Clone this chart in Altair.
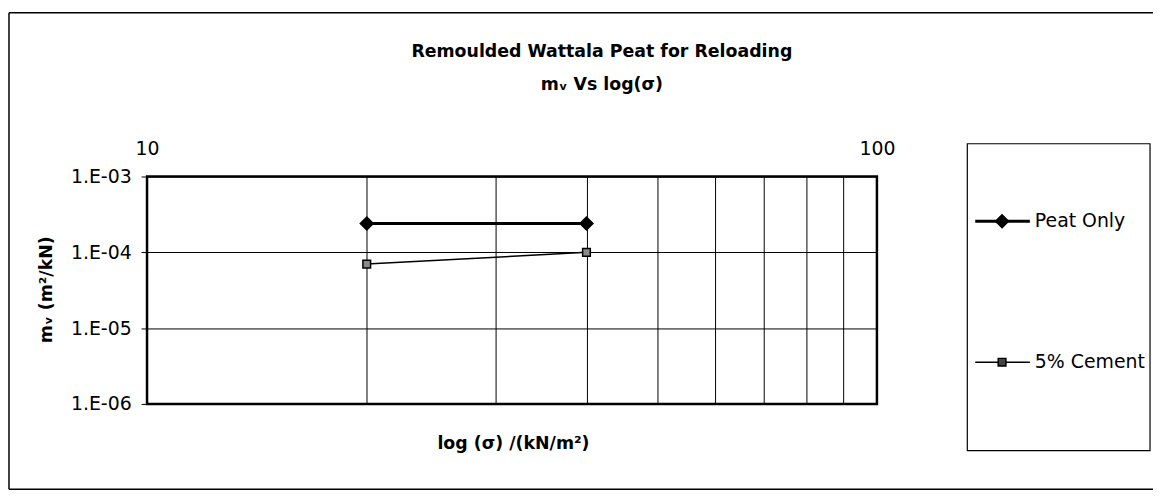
import altair as alt
import pandas as pd

# ---- data ----
series = ["Peat Only", "5% Cement"]
sigma = [20, 40]
peat_only = [2.4e-4, 2.4e-4]
cement_5 = [7.0e-5, 1.0e-4]

x_grid = [10, 20, 30, 40, 50, 60, 70, 80, 90, 100]
y_ticks = [1e-6, 1e-5, 1e-4, 1e-3]

title_lines = ["Remoulded Wattala Peat for Reloading", "mᵥ Vs log(σ)"]
x_title = "log (σ) /(kN/m²)"
y_title = "mᵥ (m²/kN)"

rows = []
for s, vals in zip(series, [peat_only, cement_5]):
    for x, v in zip(sigma, vals):
        rows.append({"series": s, "sigma": x, "mv": v})
df = pd.DataFrame(rows)

FONT = "DejaVu Sans"
W, H = 735, 229

xs = alt.Scale(type="log", domain=[10, 100], nice=False)
ys = alt.Scale(type="log", domain=[1e-6, 1e-3], nice=False)

x_axis = alt.Axis(
    orient="top", values=x_grid, grid=True, gridColor="black", gridOpacity=1,
    gridWidth=1, ticks=False, tickSize=0, domain=False,
    labelExpr="(datum.value < 11 || datum.value > 99) ? format(datum.value, 'd') : ''",
    labelPadding=18, labelFont=FONT, labelFontSize=19, labelColor="black",
    labelFlush=False, labelOverlap=False, title=None,
)
y_axis = alt.Axis(
    values=y_ticks, grid=True, gridColor="black", gridOpacity=1, gridWidth=1,
    domain=False, ticks=True, tickSize=6, tickColor="black", tickWidth=1,
    labelExpr="'1.E-0' + round(-log(datum.value) / LN10)",
    labelPadding=10, labelFont=FONT, labelFontSize=19, labelColor="black",
    labelOverlap=False, labelFlush=False, title=None,
)

X = alt.X("sigma:Q", scale=xs, axis=x_axis)
Y = alt.Y("mv:Q", scale=ys, axis=y_axis)

base = alt.Chart(df)
lines = base.mark_line(color="black").encode(
    x=X, y=Y, detail="series:N",
    strokeWidth=alt.StrokeWidth("series:N", scale=alt.Scale(domain=series, range=[3, 1.5]), legend=None),
)
points = base.mark_point(filled=True, opacity=1).encode(
    x=X, y=Y,
    shape=alt.Shape("series:N", scale=alt.Scale(domain=series, range=["diamond", "square"]), legend=None),
    fill=alt.Fill("series:N", scale=alt.Scale(domain=series, range=["black", "#8a8a8a"]), legend=None),
    size=alt.Size("series:N", scale=alt.Scale(domain=series, range=[170, 60]), legend=None),
    stroke=alt.value("black"), strokeWidth=alt.value(1.5),
)

one = pd.DataFrame({"k": [0]})


def txt(t, x, y, size=19, bold=False, align="center", angle=0):
    kw = dict(font=FONT, fontSize=size, fontWeight="bold" if bold else "normal",
              align=align, baseline="middle", color="black")
    if angle:
        kw["angle"] = angle
    return alt.Chart(pd.DataFrame({"t": [t]})).mark_text(**kw).encode(
        text="t:N", x=alt.value(x), y=alt.value(y))


def rule(x, x2, y, y2, sw=1.5):
    return alt.Chart(one).mark_rule(color="black", strokeWidth=sw).encode(
        x=alt.value(x), x2=alt.value(x2), y=alt.value(y), y2=alt.value(y2))


# outer frame: left, top and bottom edges (right edge lies outside the picture)
frame = [
    rule(-139, -139, -165, 315),
    rule(-139, 1013, -165, -165),
    rule(-139, 1013, 315, 315),
]
legend_box = alt.Chart(one).mark_rect(fillOpacity=0, stroke="black", strokeWidth=1.2).encode(
    x=alt.value(826), x2=alt.value(1010), y=alt.value(-33), y2=alt.value(276))

leg_y = [45, 187]
leg_layers = []
for s, ly, shp, fill, sz, sw in zip(series, leg_y, ["diamond", "square"], ["black", "#444"], [170, 60], [3, 1.5]):
    leg_layers.append(rule(834, 889, ly, ly, sw))
    leg_layers.append(alt.Chart(one).mark_point(shape=shp, filled=True, fill=fill, stroke="black",
                                                strokeWidth=1.5, size=sz, opacity=1).encode(
        x=alt.value(861), y=alt.value(ly)))
    leg_layers.append(txt(s, 894, ly, size=19, align="left"))

chart = alt.layer(
    *frame, legend_box, lines, points,
    txt(title_lines[0], 458, -125, size=17.5, bold=True),
    txt(title_lines[1], 458, -92, size=17.5, bold=True),
    txt(x_title, 369, 269, size=17.5, bold=True),
    txt(y_title, -101, 114, size=17.5, bold=True, angle=270),
    *leg_layers,
).properties(
    width=W, height=H,
    padding={"left": 140, "top": 168, "right": 278, "bottom": 88},
    autosize=alt.AutoSizeParams(type="none"),
).configure_view(stroke="black", strokeWidth=2.5)

chart.save("out.html", embed_options={"renderer": "svg", "actions": False})
